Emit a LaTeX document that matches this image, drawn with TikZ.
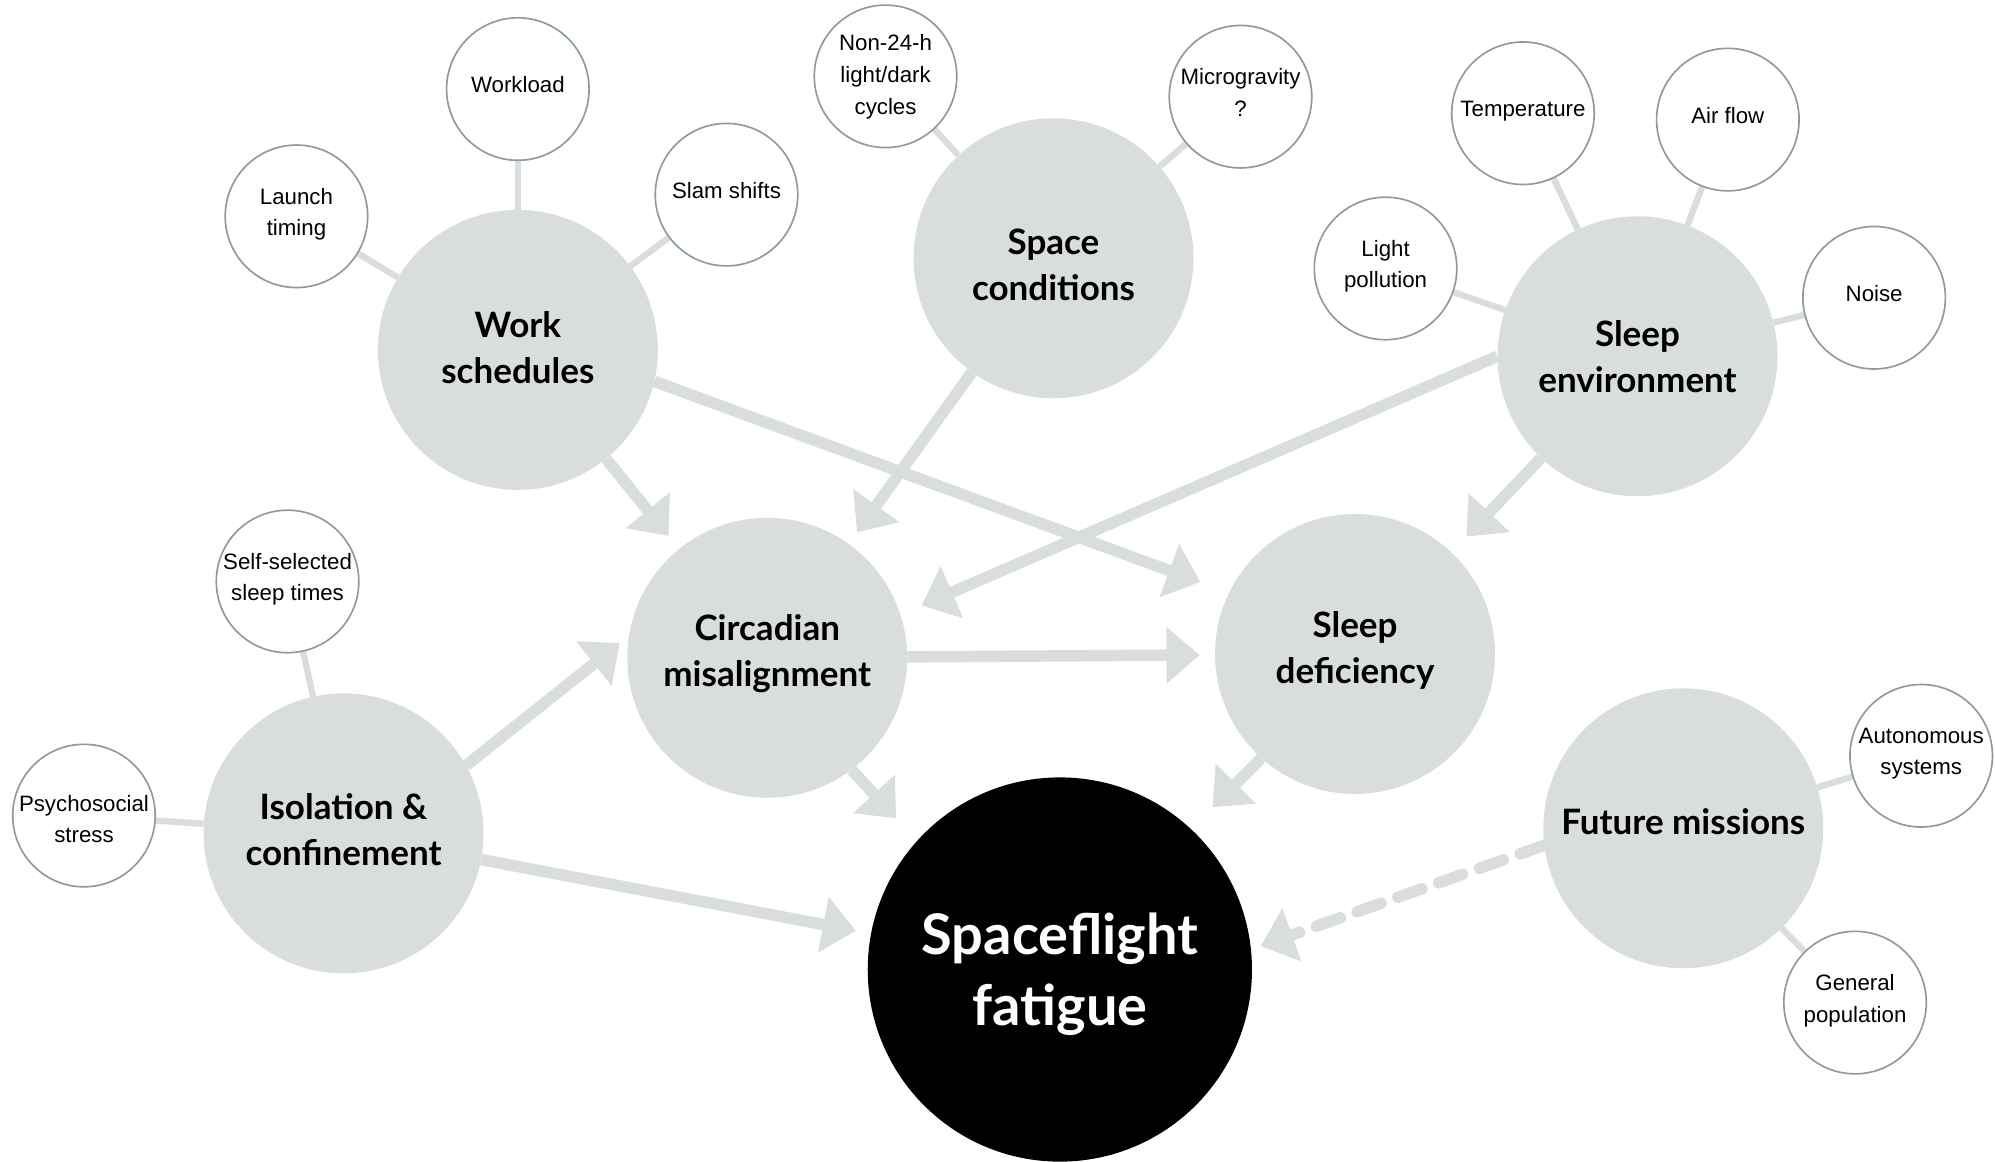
\documentclass[tikz,border=0pt]{standalone}
\usepackage{fontspec}
\setmainfont{Liberation Sans}
\newfontfamily\labfont{Lato}
\usetikzlibrary{arrows.meta,backgrounds}
\definecolor{fillgrey}{RGB}{217,222,219}
\definecolor{ringgrey}{RGB}{140,155,155}
\tikzset{
  bigc/.style={circle, fill=fillgrey, minimum size=220pt, inner sep=0pt, align=center,
    font=\labfont\bfseries\fontsize{27.5}{36}\selectfont},
  fatiguec/.style={circle, fill=black, text=white, minimum size=302pt, inner sep=0pt, align=center,
    font=\labfont\bfseries\fontsize{44}{56}\selectfont},
  smallc/.style={circle, draw=ringgrey, line width=1.3pt, fill=white, minimum size=112pt,
    inner sep=0pt, align=center, text depth=7pt, font=\fontsize{17.5}{25}\selectfont},
  link/.style={draw=fillgrey, line width=5pt},
  arr/.style={draw=fillgrey, line width=9pt, -{Triangle[length=26pt,width=43pt]}},
  dasharr/.style={arr, line cap=round, dash pattern=on 20pt off 14pt},
}
\begin{document}
\begin{tikzpicture}[x=1pt,y=-1pt]
\useasboundingbox (0,0) rectangle (1568,913);
% main nodes
\node[bigc, text depth=4pt] (ws) at (407,275) {Work\\schedules};
\node[bigc, text height=66pt] (sc) at (828,203) {Space\\conditions};
\node[bigc] (se) at (1287,280) {Sleep\\environment};
\node[bigc, text depth=11pt] (cm) at (603,517) {Circadian\\misalignment};
\node[bigc, text depth=10pt] (sd) at (1065,514) {Sleep\\deficiency};
\node[bigc, text depth=6pt] (ic) at (270,655) {Isolation \&\\confinement};
\node[bigc, text depth=10pt] (fm) at (1323,651) {Future missions};
\node[fatiguec, text depth=0pt] (sf) at (833,762) {Spaceflight\\fatigue};
% small nodes
\node[smallc] (wl) at (407,70) {Workload};
\node[smallc] (lt) at (233,170) {Launch\\timing};
\node[smallc] (ss) at (571,153) {Slam shifts};
\node[smallc, text depth=3pt] (nl) at (696,60) {Non-24-h\\light/dark\\cycles};
\node[smallc] (mg) at (975,76) {Microgravity\\?};
\node[smallc] (tp) at (1197,89) {Temperature};
\node[smallc] (af) at (1358,94) {Air flow};
\node[smallc] (lp) at (1089,211) {Light\\pollution};
\node[smallc] (ns) at (1473,234) {Noise};
\node[smallc] (st) at (226,457) {Self-selected\\sleep times};
\node[smallc, text depth=0pt, text height=43pt] (ps) at (66,641) {Psychosocial\\stress};
\node[smallc] (as) at (1510,594) {Autonomous\\systems};
\node[smallc] (gp) at (1458,788) {General\\population};
\begin{scope}[on background layer]
\fill[white] (0,0) rectangle (1568,913);
% links
\draw[link] (wl) -- (ws);
\draw[link] (lt) -- (ws);
\draw[link] (ss) -- (ws);
\draw[link] (nl) -- (sc);
\draw[link] (mg) -- (sc);
\draw[link] (tp) -- (se);
\draw[link] (af) -- (se);
\draw[link] (lp) -- (se);
\draw[link] (ns) -- (se);
\draw[link] (st) -- (ic);
\draw[link] (ps) -- (ic);
\draw[link] (as) -- (fm);
\draw[link] (gp) -- (fm);
% arrows
\draw[arr, shorten >=13pt] (ws) -- (cm);
\draw[arr, shorten >=24pt] (ws.-13) -- (sd.154);
\draw[arr, shorten >=11pt] (sc) -- (cm);
\draw[arr, shorten >=18pt] (se.180) -- (cm.18);
\draw[arr, shorten >=17pt] (se) -- (sd);
\draw[arr, shorten >=12pt] (cm) -- (sd);
\draw[arr, shorten >=9pt] (ic.29) -- (cm.171);
\draw[arr, shorten >=12pt] (ic) -- (sf);
\draw[arr, shorten >=24pt] (cm.-53) -- (sf.138);
\draw[arr, shorten >=24pt] (sd.228) -- (sf.47);
\draw[dasharr, shorten >=8pt] (fm.187) -- (sf.6);
\end{scope}
\end{tikzpicture}
\end{document}
